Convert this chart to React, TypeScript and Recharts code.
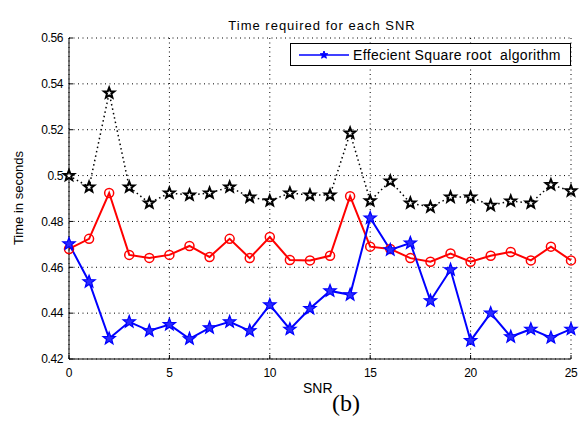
import { LineChart, Line, XAxis, YAxis, CartesianGrid, Legend } from 'recharts';

const snr = [0, 1, 2, 3, 4, 5, 6, 7, 8, 9, 10, 11, 12, 13, 14, 15, 16, 17, 18, 19, 20, 21, 22, 23, 24, 25];
const conventionalTime = [0.5, 0.495, 0.536, 0.495, 0.488, 0.4924, 0.4915, 0.4924, 0.495, 0.4906, 0.489, 0.4924, 0.4915, 0.4915, 0.5185, 0.489, 0.4976, 0.488, 0.4863, 0.4906, 0.4906, 0.487, 0.4889, 0.488, 0.496, 0.4933];
const squareRootTime = [0.468, 0.4724, 0.4924, 0.4654, 0.4641, 0.4654, 0.4693, 0.4645, 0.4724, 0.464, 0.4732, 0.4632, 0.463, 0.465, 0.491, 0.469, 0.468, 0.464, 0.4624, 0.466, 0.4624, 0.465, 0.4667, 0.463, 0.469, 0.463];
const efficientTime = [0.4702, 0.4537, 0.4289, 0.4362, 0.4323, 0.435, 0.4288, 0.4336, 0.4362, 0.4323, 0.4436, 0.433, 0.442, 0.4497, 0.448, 0.4815, 0.4676, 0.4706, 0.4454, 0.4589, 0.428, 0.44, 0.4297, 0.433, 0.4293, 0.433];
const xTicks = [0, 5, 10, 15, 20, 25];
const yTicks = [0.42, 0.44, 0.46, 0.48, 0.5, 0.52, 0.54, 0.56];

const data = snr.map((s, i) => ({
  snr: s,
  conventional: conventionalTime[i],
  squareRoot: squareRootTime[i],
  efficient: efficientTime[i],
}));

const FONT = '"Liberation Sans", Arial, sans-serif';

function starPath(cx: number, cy: number, R: number) {
  const r = R * 0.42;
  let d = '';
  for (let k = 0; k < 10; k++) {
    const a = (-90 + k * 36) * (Math.PI / 180);
    const rad = k % 2 === 0 ? R : r;
    d += (k === 0 ? 'M' : 'L') + (cx + rad * Math.cos(a)).toFixed(2) + ',' + (cy + rad * Math.sin(a)).toFixed(2);
  }
  return d + 'Z';
}

function BlueStar({ cx, cy }: any) {
  if (cx == null || cy == null) return null;
  return <path d={starPath(cx, cy, 6.5)} fill="#2a2aff" stroke="#0000ff" strokeWidth={1.2} />;
}

function BlackStar({ cx, cy }: any) {
  if (cx == null || cy == null) return null;
  return <path d={starPath(cx, cy, 5.5)} fill="#fff" stroke="#000" strokeWidth={2} />;
}

function RedCircle({ cx, cy }: any) {
  if (cx == null || cy == null) return null;
  return <circle cx={cx} cy={cy} r={4.5} fill="none" stroke="#ff0000" strokeWidth={1.5} />;
}

function LegendBox() {
  return (
    <div
      style={{
        border: '1px solid #000',
        background: '#fff',
        display: 'flex',
        alignItems: 'center',
        height: 23,
        width: 281,
        boxSizing: 'border-box',
        fontFamily: FONT,
        fontSize: 14,
        letterSpacing: 0.35,
        color: '#000',
      }}
    >
      <svg width={52} height={12} style={{ marginLeft: 6 }}>
        <line x1={2} y1={6} x2={52} y2={6} stroke="#0000ff" strokeWidth={1.5} />
        <path d={starPath(27, 6, 4)} fill="#0000ff" stroke="#0000ff" />
      </svg>
      <span style={{ marginLeft: 4, whiteSpace: 'pre' }}>Effecient Square root  algorithm</span>
    </div>
  );
}

const tickStyle = { fill: '#000', fontSize: 12, fontFamily: FONT, letterSpacing: -0.4 };
const noLabel = () => <g />;

export default function App() {
  return (
    <div style={{ position: 'fixed', left: 0, top: 0, width: 579, height: 421, background: '#fff' }}>
      <div
        style={{
          position: 'absolute',
          left: 22,
          width: 600,
          top: 18,
          textAlign: 'center',
          fontFamily: FONT,
          fontSize: 13,
          letterSpacing: 1,
        }}
      >
        Time required for each SNR
      </div>
      <div
        style={{
          position: 'absolute',
          left: 18,
          top: 198,
          transform: 'translate(-50%, -50%) rotate(-90deg)',
          whiteSpace: 'nowrap',
          fontFamily: FONT,
          fontSize: 13,
        }}
      >
        Time in seconds
      </div>
      <div style={{ position: 'absolute', left: 303, top: 380, fontFamily: FONT, fontSize: 14 }}>SNR</div>
      <div style={{ position: 'absolute', left: 332, top: 390, fontFamily: '"Liberation Serif", serif', fontSize: 24 }}>
        (b)
      </div>
      {/* legend height (23) is added to the top margin by recharts, so 15 + 23 puts the plot top at 38 */}
      <LineChart width={579} height={421} data={data} margin={{ top: 15, right: 8, left: 0, bottom: 0 }}>
        <CartesianGrid stroke="#000" strokeDasharray="1 3.5" />
        <XAxis
          dataKey="snr"
          type="number"
          domain={[0, 25]}
          ticks={xTicks}
          tick={tickStyle}
          tickSize={-4}
          tickLine={{ stroke: '#000' }}
          axisLine={{ stroke: '#000' }}
          height={62}
          tickMargin={13}
        />
        <XAxis
          xAxisId="top"
          orientation="top"
          dataKey="snr"
          type="number"
          domain={[0, 25]}
          ticks={xTicks}
          height={0}
          tick={noLabel}
          tickSize={-4}
          tickLine={{ stroke: '#000' }}
          axisLine={{ stroke: '#000' }}
        />
        <YAxis
          type="number"
          domain={[0.42, 0.56]}
          ticks={yTicks}
          tick={tickStyle}
          tickSize={-4}
          tickLine={{ stroke: '#000' }}
          axisLine={{ stroke: '#000' }}
          width={69}
          tickMargin={10}
          tickFormatter={(v: number) => String(Number(v.toFixed(2)))}
          allowDataOverflow
        />
        <YAxis
          yAxisId="right"
          orientation="right"
          type="number"
          domain={[0.42, 0.56]}
          ticks={yTicks}
          width={0}
          tick={noLabel}
          tickSize={-4}
          tickLine={{ stroke: '#000' }}
          axisLine={{ stroke: '#000' }}
        />
        <Legend
          verticalAlign="top"
          align="left"
          content={() => <LegendBox />}
          wrapperStyle={{ position: 'absolute', left: 290, top: 43, width: 'auto' }}
        />
        <Line
          dataKey="conventional"
          name="Conventional algorithm"
          stroke="#000"
          strokeWidth={1.5}
          strokeDasharray="1.5 3"
          dot={<BlackStar />}
          legendType="none"
          isAnimationActive={false}
        />
        <Line
          dataKey="squareRoot"
          name="Square root algorithm"
          stroke="#ff0000"
          strokeWidth={2}
          dot={<RedCircle />}
          legendType="none"
          isAnimationActive={false}
        />
        <Line
          dataKey="efficient"
          name="Effecient Square root algorithm"
          stroke="#0000ff"
          strokeWidth={2}
          dot={<BlueStar />}
          isAnimationActive={false}
        />
      </LineChart>
    </div>
  );
}
